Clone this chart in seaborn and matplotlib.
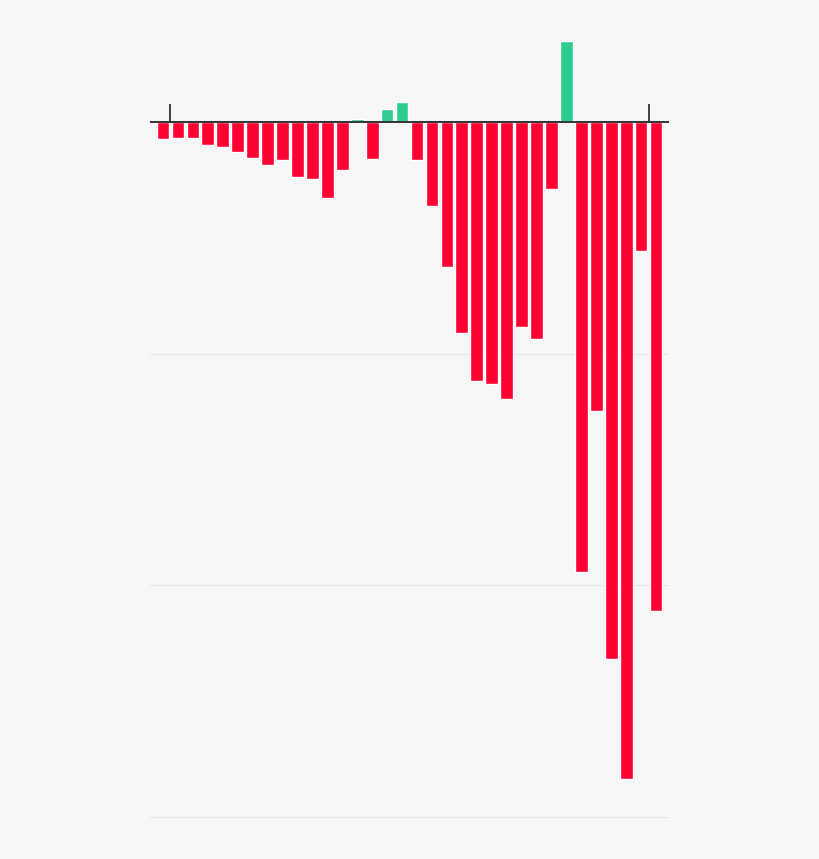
import pandas as pd
import numpy as np
import matplotlib
matplotlib.use('Agg')
from matplotlib import pyplot as plt
import seaborn as sns

# bar values, one per period (grid lines at -100, -200, -300)
values = [-7.2, -6.6, -6.9, -9.9, -10.5, -12.8, -15.4, -18.3, -16.3, -23.6,
          -24.5, -32.8, -20.6, 1.6, -15.8, 5.6, 8.8, -16.3, -36.0, -62.6,
          -91.1, -111.7, -113.0, -119.3, -88.3, -93.6, -28.9, 35.1, -194.2, -124.5,
          -231.9, -283.4, -55.4, -210.9]
grid_levels = [-100, -200, -300]
tick_positions = [0.5, 32.5]

red = '#ff0033'
green = '#2ecc8f'
bg = '#f6f6f6'

df = pd.DataFrame({'idx': range(len(values)), 'value': values})
df['sign'] = np.where(df['value'] >= 0, 'pos', 'neg')

sns.set_style('white')
fig = plt.figure(figsize=(8.2, 8.59), dpi=100)
fig.patch.set_facecolor(bg)
ax = fig.add_axes([0.1829, 0.0462, 0.633, 0.9085])
ax.set_facecolor(bg)

# light grid lines behind the bars
for g in grid_levels:
    ax.axhline(g, color='#e8e8e8', linewidth=0.9, zorder=0)

sns.barplot(data=df, x='idx', y='value', hue='sign',
            palette={'neg': red, 'pos': green}, dodge=False,
            width=0.85, legend=False, saturation=1, ax=ax, zorder=2)

# zero line and the two small ticks above it
ax.axhline(0, color='#333333', linewidth=1.4, zorder=3)
ax.vlines(tick_positions, 0, 7.8, color='#333333', linewidth=1.3, zorder=3)

ax.set_xlim(-0.87, 33.87)
ax.set_ylim(-301, 36)
ax.set_xticks([])
ax.set_yticks([])
ax.set_xlabel('')
ax.set_ylabel('')
for s in ax.spines.values():
    s.set_visible(False)

fig.savefig('out.png', dpi=100, facecolor=bg)
